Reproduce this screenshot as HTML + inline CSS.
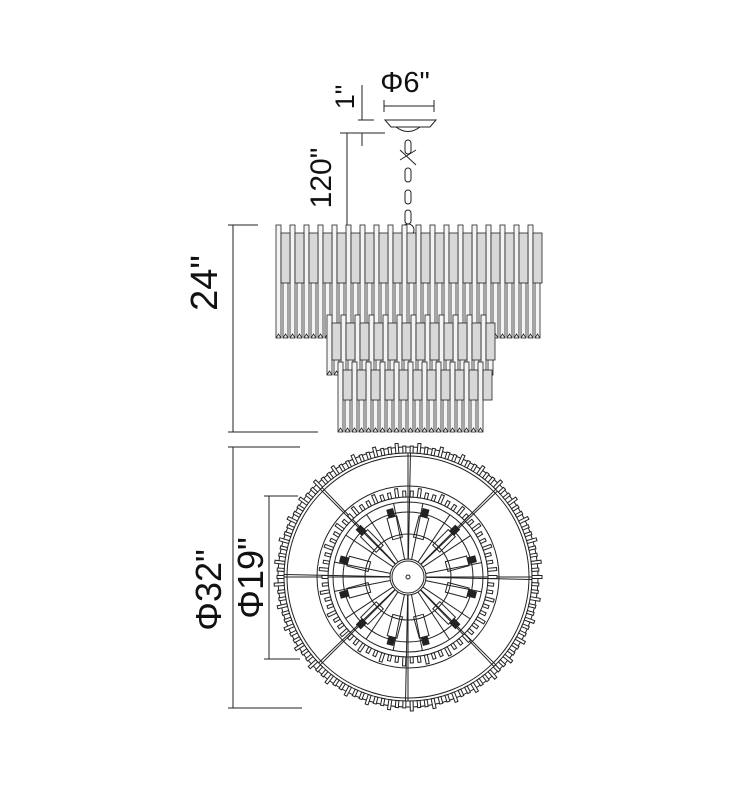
<!DOCTYPE html>
<html><head><meta charset="utf-8"><style>
html,body{margin:0;padding:0;background:#fff;width:730px;height:800px;overflow:hidden}
svg{display:block}
text{font-family:"Liberation Sans",sans-serif;fill:#111}
</style></head><body>
<svg id="s" width="730" height="800" viewBox="0 0 730 800" xmlns="http://www.w3.org/2000/svg">
<g stroke="#222" stroke-width="1" fill="none">
<line x1="384" y1="106" x2="434" y2="106"/>
<line x1="384" y1="100" x2="384" y2="112"/><line x1="434" y1="100" x2="434" y2="112"/>
<line x1="362" y1="85" x2="362" y2="120"/>
<line x1="358" y1="120" x2="374" y2="120"/>
<line x1="340" y1="133" x2="385" y2="133"/>
<line x1="362" y1="133" x2="362" y2="146"/>
<line x1="347" y1="133" x2="347" y2="225"/>
<line x1="228" y1="225" x2="258" y2="225"/>
<line x1="233" y1="225" x2="233" y2="432"/>
<line x1="228" y1="432" x2="318" y2="432"/>
<line x1="228" y1="447" x2="300" y2="447"/>
<line x1="233" y1="447" x2="233" y2="708"/>
<line x1="228" y1="708" x2="302" y2="708"/>
<line x1="264" y1="496" x2="298" y2="496"/>
<line x1="269" y1="496" x2="269" y2="659"/>
<line x1="264" y1="659" x2="300" y2="659"/>
<path d="M385 120 H436 L430 127 H391 Z"/>
<path d="M396 127 Q408 136 420 127"/>
<rect x="405" y="140" width="6" height="14" rx="3"/>
<line x1="400" y1="160" x2="416" y2="150"/>
<line x1="400" y1="150" x2="416" y2="165"/>
<rect x="405" y="168" width="6" height="14" rx="3"/>
<rect x="405" y="190" width="6" height="14" rx="3"/>
<rect x="405" y="210" width="6" height="14" rx="3"/>
<circle cx="408" cy="230" r="6"/>
</g>
<g id="g1" stroke="#222" stroke-width="0.8" fill="#fff"></g>
<g id="g2" stroke="#222" stroke-width="1" fill="none">
<circle cx="408" cy="577" r="130"/>
<circle cx="408" cy="577" r="124"/>
<circle cx="408" cy="577" r="121"/>
<circle cx="408" cy="577" r="91"/>
<circle cx="408" cy="577" r="80"/>
<circle cx="408" cy="577" r="75"/>
<circle cx="408" cy="577" r="65"/>
<circle cx="408" cy="577" r="43"/>
<circle cx="408" cy="577" r="18"/>
<circle cx="408" cy="577" r="16"/>
<circle cx="408" cy="577" r="2"/>
</g>
<text x="405" y="92" font-size="29" text-anchor="middle">Φ6"</text>
<text transform="translate(354,97) rotate(-90)" font-size="27" text-anchor="middle">1"</text>
<text transform="translate(331,178) rotate(-90)" font-size="30" text-anchor="middle">120"</text>
<text transform="translate(217,283) rotate(-90)" font-size="38" text-anchor="middle">24"</text>
<text transform="translate(221,590) rotate(-90)" font-size="36" text-anchor="middle">Φ32"</text>
<text transform="translate(263,578) rotate(-90)" font-size="36" text-anchor="middle">Φ19"</text>
</svg>
<script>
var NS="http://www.w3.org/2000/svg";
function el(p,t,a){var e=document.createElementNS(NS,t);for(var k in a)e.setAttribute(k,a[k]);p.appendChild(e);return e;}
var g1=document.getElementById('g1');
function tier(x0,x1,yTop,yWideBot,yBot){
  for(var x=x0;x<x1-4;x+=7){
    var h=((x-x0)/7)%2==0;
    el(g1,'rect',{x:x,y:h?yTop:yTop+18,width:5,height:(h?yBot-yTop:yBot-yTop-18),fill:'#f4f4f4'});
    el(g1,'path',{d:'M'+x+' '+yBot+' l2.5 -4 l2.5 4',fill:'none'});
  }
  for(var x=x0;x<x1-4;x+=14){
    el(g1,'rect',{x:x+5,y:yTop+8,width:9,height:yWideBot-yTop-8,fill:'#d8d8d8'});
  }
}
tier(276,541,225,283,338);
tier(327,495,315,360,375);
tier(338,483,362,400,432);
var g2=document.getElementById('g2');
var cx=408,cy=577;
for(var i=0;i<8;i++){var a=i*Math.PI/4;
 el(g2,'line',{x1:cx+18*Math.cos(a),y1:cy+18*Math.sin(a),x2:cx+124*Math.cos(a),y2:cy+124*Math.sin(a)});
 el(g2,'line',{x1:cx+18*Math.cos(a+0.02),y1:cy+18*Math.sin(a+0.02),x2:cx+124*Math.cos(a+0.02),y2:cy+124*Math.sin(a+0.02)});}
for(var i=0;i<16;i++){var a=i*Math.PI/8+0.2;
 el(g2,'line',{x1:cx+18*Math.cos(a),y1:cy+18*Math.sin(a),x2:cx+75*Math.cos(a),y2:cy+75*Math.sin(a)});}
function crystals(r,n,len){
 for(var i=0;i<n;i++){var a=i*2*Math.PI/n;var d=a*180/Math.PI;
  var L=(i%3==0)?len+3:len;
  el(g2,'rect',{x:cx+r,y:cy-1.5,width:L,height:3,transform:'rotate('+d+' '+cx+' '+cy+')',fill:'#fff'});}
}
crystals(124,110,7);crystals(80,70,6);
for(var i=0;i<12;i++){var a=i*Math.PI/6+0.26;var d=a*180/Math.PI;
 el(g2,'rect',{x:cx+40,y:cy-5,width:22,height:10,transform:'rotate('+d+' '+cx+' '+cy+')'});
 el(g2,'rect',{x:cx+62,y:cy-3,width:8,height:6,fill:'#222',transform:'rotate('+d+' '+cx+' '+cy+')'});}
</script>
</body></html>
